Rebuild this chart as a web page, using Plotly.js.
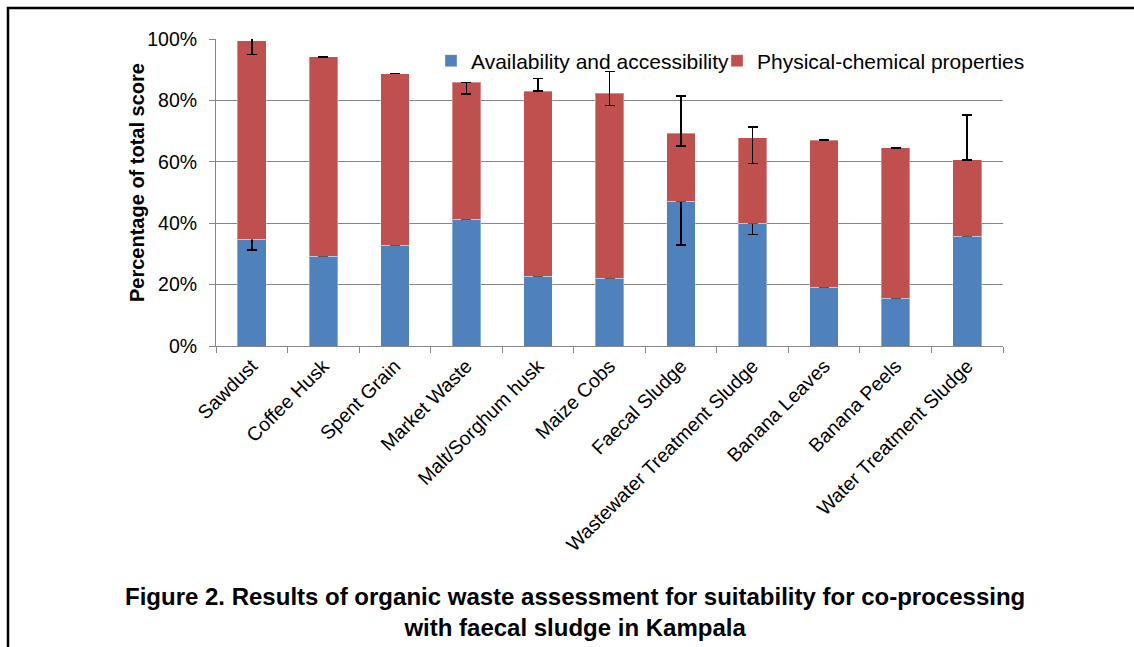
<!DOCTYPE html>
<html>
<head>
<meta charset="utf-8">
<script src="https://cdn.plot.ly/plotly-3.0.1.min.js"></script>
<style>
html,body{margin:0;padding:0;background:#fff;}
#chart{width:1134px;height:647px;}
</style>
</head>
<body>
<div id="chart"></div>
<script>
// Categories (x axis)
var categories = ["Sawdust", "Coffee Husk", "Spent Grain", "Market Waste", "Malt/Sorghum husk",
  "Maize Cobs", "Faecal Sludge", "Wastewater Treatment Sludge", "Banana Leaves", "Banana Peels",
  "Water Treatment Sludge"];

// Series values, in % of total score
var availability = [34.8, 29.2, 32.9, 41.3, 22.8, 22.0, 47.2, 40.0, 19.2, 15.6, 35.7];
var physicalChemical = [64.6, 65.0, 55.8, 44.6, 60.2, 60.3, 22.1, 27.9, 47.9, 48.9, 24.9];

// Error bars (percentage points), plus and minus
var availErrPlus  = [3.9, 3.7, 3.7, 0, 0, 7.3, 0, 0, 0, 0, 0];
var availErrMinus = [3.5, 0, 0, 0, 0, 0, 14.3, 3.6, 0, 0, 0];
var physErrPlus   = [4.4, 0, 0, 0, 4.1, 7.1, 12.1, 3.5, 0, 0, 14.7];
var physErrMinus  = [4.4, 0, 0, 3.8, 0, 3.9, 4.1, 8.5, 0, 0, 0];

var seriesNames = ["Availability and accessibility", "Physical-chemical properties"];
var yTickVals = [0, 20, 40, 60, 80, 100];
var yTickText = ["0%", "20%", "40%", "60%", "80%", "100%"];
var yTitle = "Percentage of total score";
var caption = "Figure 2. Results of organic waste assessment for suitability for co-processing<br>with faecal sludge in Kampala";

var FONT = "Liberation Sans, Arial, sans-serif";

function errObj(plus, minus) {
  return {type: "data", symmetric: false, array: plus, arrayminus: minus,
          color: "#000", thickness: 1.5, width: 5};
}

var traces = [
  {type: "bar", name: seriesNames[0], x: categories, y: availability, legend: "legend",
   marker: {color: "#4F81BD", line: {color: "rgba(255,255,255,0.35)", width: 1}},
   error_y: errObj(availErrPlus, availErrMinus)},
  {type: "bar", name: seriesNames[1], x: categories, y: physicalChemical, legend: "legend2",
   marker: {color: "#C0504D", line: {color: "rgba(255,255,255,0.35)", width: 1}},
   error_y: errObj(physErrPlus, physErrMinus)}
];

var L = 216, R = 1003, T = 39, B = 346;
function px(x) { return (x - L) / (R - L); }
function py(y) { return (B - y) / (B - T); }

var legendFont = {family: FONT, size: 21, color: "#000"};

var layout = {
  width: 1134, height: 647,
  margin: {l: L, r: 1134 - R, t: T, b: 647 - B, pad: 0},
  paper_bgcolor: "#fff", plot_bgcolor: "#fff",
  barmode: "stack", bargap: 0.6,
  font: {family: FONT, color: "#000", size: 19},
  showlegend: true,
  legend: {orientation: "h", x: px(431), xanchor: "left", y: py(61), yanchor: "middle",
           font: legendFont, bgcolor: "rgba(0,0,0,0)", itemclick: false},
  legend2: {orientation: "h", x: px(717), xanchor: "left", y: py(61), yanchor: "middle",
           font: legendFont, bgcolor: "rgba(0,0,0,0)", itemclick: false},
  xaxis: {type: "category", tickson: "boundaries", ticks: "outside", ticklen: 6,
          tickcolor: "#878787", showline: true, linecolor: "#878787", linewidth: 1,
          showgrid: false, tickangle: -45, tickfont: {family: FONT, size: 19.5, color: "#000"},
          fixedrange: true},
  yaxis: {range: [0, 100], tickvals: yTickVals, ticktext: yTickText, ticks: "outside",
          ticklen: 6, tickcolor: "#878787", showline: true, linecolor: "#878787", linewidth: 1,
          showgrid: true, gridcolor: "#878787", gridwidth: 1, zeroline: false,
          ticklabelstandoff: 8,
          tickfont: {family: FONT, size: 19.5, color: "#000"},
          fixedrange: true},
  annotations: [
    {xref: "paper", yref: "paper", x: px(137), y: py(183), xanchor: "center", yanchor: "middle",
     showarrow: false, textangle: -90, text: "<b>" + yTitle + "</b>",
     font: {family: FONT, size: 20, color: "#000"}},
    {xref: "paper", yref: "paper", x: px(575), y: py(611.5), xanchor: "center", yanchor: "middle",
     showarrow: false, align: "center", text: "<b>" + caption + "</b>",
     font: {family: FONT, size: 24, color: "#000"}}
  ],
  shapes: [
    {type: "line", xref: "paper", yref: "paper", x0: px(8), x1: px(8), y0: py(7), y1: py(660),
     line: {color: "#000", width: 2.5}},
    {type: "line", xref: "paper", yref: "paper", x0: px(7), x1: px(1140), y0: py(8), y1: py(8),
     line: {color: "#000", width: 2.5}}
  ]
};

Plotly.newPlot("chart", traces, layout, {displayModeBar: false, staticPlot: true});
</script>
</body>
</html>
